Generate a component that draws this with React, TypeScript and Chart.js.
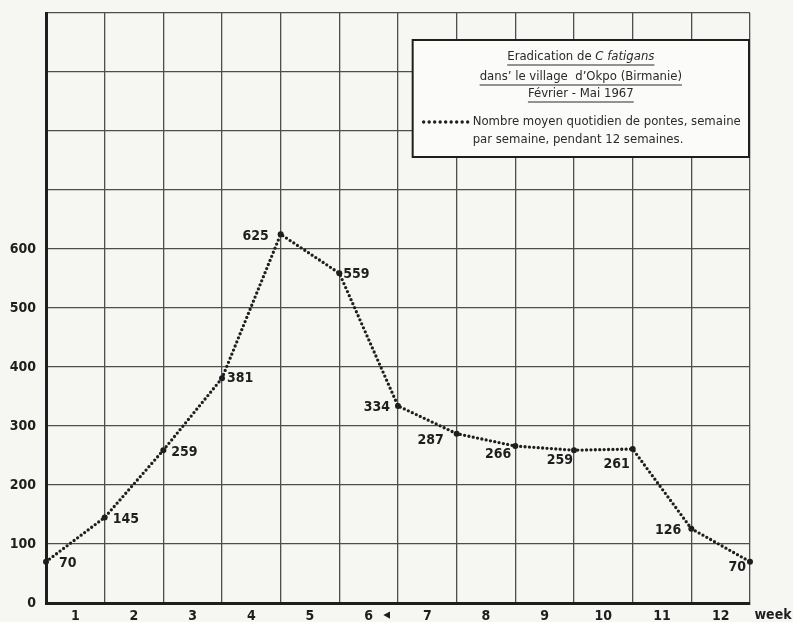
import { useEffect, useRef } from 'react';
import { Chart, registerables } from 'chart.js';

Chart.register(...registerables);

// ---- data ----
const weekIndex: number[] = [0, 1, 2, 3, 4, 5, 6, 7, 8, 9, 10, 11, 12];
const eggsPerDay: number[] = [70, 145, 259, 381, 625, 559, 334, 287, 266, 259, 261, 126, 70];
const weekLabels: string[] = ['1', '2', '3', '4', '5', '6', '7', '8', '9', '10', '11', '12'];
const yTickLabels: number[] = [0, 100, 200, 300, 400, 500, 600];
const titleLines: string[] = ['dans\u2019 le village  d\u2019Okpo (Birmanie)', 'F\u00e9vrier - Mai 1967'];
const titleFirst: string[] = ['Eradication de ', 'C fatigans'];
const legendLines: string[] = ['Nombre moyen quotidien de pontes, semaine', 'par semaine, pendant 12 semaines.'];
const axisUnit = 'week';
const arrowWeek = '6';

// ---- styling ----
const FAMILY = "'DejaVu Sans Condensed', 'DejaVu Sans', sans-serif";
const INK = '#1e1e1e';
const GRID = '#4e4e4e';
const PAPER = '#f6f6f3';
// label placement relative to each point: [dx, dy, align]
const labelPlacement: [number, number, CanvasTextAlign][] = [
  [13, 2, 'left'], [8, 2, 'left'], [8, 2, 'left'], [5, 0, 'left'], [-12, 2, 'right'],
  [4, 1, 'left'], [-8, 1, 'right'], [-13, 7, 'right'], [-4, 8, 'right'], [-1, 10, 'right'],
  [-3, 15, 'right'], [-10, 2, 'right'], [-4, 6, 'right'],
];

const decorPlugin = {
  id: 'decor',
  beforeDraw(chart: any) {
    const { ctx, width, height } = chart;
    ctx.save();
    ctx.fillStyle = PAPER;
    ctx.fillRect(0, 0, width, height);
    ctx.restore();
  },
  afterDatasetsDraw(chart: any) {
    const { ctx, chartArea } = chart;
    const meta = chart.getDatasetMeta(0);
    ctx.save();
    ctx.fillStyle = INK;
    ctx.font = `bold 14px ${FAMILY}`;
    ctx.textBaseline = 'middle';
    meta.data.forEach((pt: any, i: number) => {
      const [dx, dy, align] = labelPlacement[i];
      ctx.textAlign = align;
      ctx.fillText(String(eggsPerDay[i]), pt.x + dx, pt.y + dy);
    });

    // legend box
    const bx = chartArea.left + (chartArea.right - chartArea.left) * (6.25 / 12);
    const bw = chartArea.right - 1 - bx;
    const by = chartArea.top + 27;
    const bh = 117;
    ctx.fillStyle = '#fbfbf9';
    ctx.fillRect(bx, by, bw, bh);
    ctx.strokeStyle = INK;
    ctx.lineWidth = 2;
    ctx.strokeRect(bx, by, bw, bh);

    const cx = bx + bw / 2;
    ctx.fillStyle = '#2a2a2a';
    ctx.strokeStyle = '#2a2a2a';
    ctx.lineWidth = 1;
    ctx.textBaseline = 'middle';
    const fN = `13px ${FAMILY}`;
    const fI = `italic 13px ${FAMILY}`;
    ctx.font = fN;
    const w1 = ctx.measureText(titleFirst[0]).width;
    ctx.font = fI;
    const w2 = ctx.measureText(titleFirst[1]).width;
    const tx = cx - (w1 + w2) / 2;
    const ty = by + 17;
    ctx.textAlign = 'left';
    ctx.font = fN;
    ctx.fillText(titleFirst[0], tx, ty);
    ctx.font = fI;
    ctx.fillText(titleFirst[1], tx + w1, ty);
    ctx.beginPath();
    ctx.moveTo(tx, ty + 8);
    ctx.lineTo(tx + w1 + w2, ty + 8);
    ctx.stroke();
    ctx.font = fN;
    titleLines.forEach((line, k) => {
      const y = by + 37 + k * 17;
      const w = ctx.measureText(line).width;
      ctx.textAlign = 'center';
      ctx.fillText(line, cx, y);
      ctx.beginPath();
      ctx.moveTo(cx - w / 2, y + 8);
      ctx.lineTo(cx + w / 2, y + 8);
      ctx.stroke();
    });
    // legend sample
    const ly = by + 82;
    ctx.save();
    ctx.strokeStyle = INK;
    ctx.lineWidth = 3.4;
    ctx.lineCap = 'round';
    ctx.setLineDash([0, 5.5]);
    ctx.beginPath();
    ctx.moveTo(bx + 11, ly);
    ctx.lineTo(bx + 56, ly);
    ctx.stroke();
    ctx.restore();
    ctx.textAlign = 'left';
    ctx.font = fN;
    ctx.fillText(legendLines[0], bx + 60, ly);
    ctx.fillText(legendLines[1], bx + 60, ly + 18);

    // axis unit and arrow
    const xs = chart.scales.xLabels;
    ctx.font = `bold 14px ${FAMILY}`;
    ctx.fillStyle = INK;
    ctx.textAlign = 'center';
    ctx.fillText(axisUnit, chartArea.right + 23, chartArea.bottom + 12);
    const idx = weekLabels.indexOf(arrowWeek);
    const px = xs.getPixelForValue(idx + 0.5);
    ctx.font = `15px ${FAMILY}`;
    ctx.fillText('\u25C2', px + 18, chartArea.bottom + 12);
    ctx.restore();
  },
};

export default function App() {
  const ref = useRef<HTMLCanvasElement | null>(null);
  useEffect(() => {
    if (!ref.current) return;
    const chart = new Chart(ref.current, {
      type: 'line',
      data: {
        datasets: [
          {
            data: weekIndex.map((w, i) => ({ x: w, y: eggsPerDay[i] })),
            borderColor: INK,
            borderWidth: 3.3,
            borderDash: [0, 4.4],
            borderCapStyle: 'round',
            pointRadius: 3,
            pointBackgroundColor: INK,
            pointBorderWidth: 0,
            tension: 0,
            clip: false as any,
          },
        ],
      },
      options: {
        responsive: false,
        animation: false,
        layout: { padding: { top: 13, right: 43, left: 0, bottom: 0 } },
        plugins: { legend: { display: false }, tooltip: { enabled: false } },
        scales: {
          x: {
            type: 'linear',
            position: 'bottom',
            min: 0,
            max: 12,
            ticks: { display: false, stepSize: 1 },
            grid: { color: GRID, lineWidth: 1.3, drawTicks: false },
            border: { color: INK, width: 3 },
            afterFit: (s: any) => { s.height = 0; },
          },
          xLabels: {
            type: 'linear',
            position: 'bottom',
            min: 0,
            max: 12,
            grid: { display: false, drawTicks: false },
            border: { display: false },
            afterBuildTicks: (s: any) => { s.ticks = weekLabels.map((_, i) => ({ value: i + 0.5 })); },
            ticks: {
              autoSkip: false,
              maxRotation: 0,
              padding: 5,
              color: INK,
              font: { family: FAMILY, size: 14, weight: 'bold' },
              callback: (_v: any, i: number) => weekLabels[i],
            },
            afterFit: (s: any) => { s.height = 19; },
          },
          y: {
            type: 'linear',
            min: 0,
            max: 1000,
            afterBuildTicks: (s: any) => {
              const t = [] as any[];
              for (let v = 0; v <= 1000; v += 100) t.push({ value: v });
              s.ticks = t;
            },
            ticks: {
              padding: 10,
              color: INK,
              font: { family: FAMILY, size: 14, weight: 'bold', lineHeight: 0.3 },
              callback: (v: any) => (yTickLabels.includes(Number(v)) ? String(v) : ''),
            },
            grid: { color: GRID, lineWidth: 1.3, drawTicks: false },
            border: { color: INK, width: 3 },
            afterFit: (s: any) => { s.width = 46; },
          },
        },
      },
      plugins: [decorPlugin],
    } as any);
    return () => chart.destroy();
  }, []);
  return (
    <div style={{ position: 'absolute', left: 0, top: 0, width: 793, height: 622 }}>
      <canvas ref={ref} width={793} height={622} />
    </div>
  );
}
